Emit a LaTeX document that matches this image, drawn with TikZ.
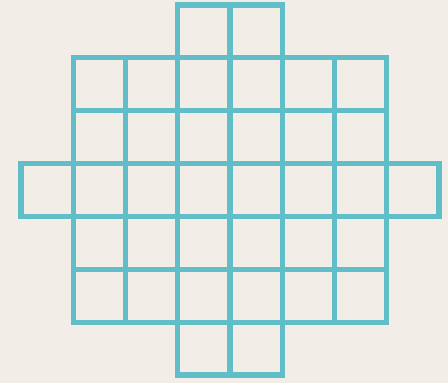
\documentclass[tikz,border=0pt]{standalone}
\usepackage{tikz}
\definecolor{gridteal}{RGB}{96,190,200}
\definecolor{paper}{RGB}{242,237,231}

\begin{document}
\begin{tikzpicture}[
    x=1pt, y=-1pt,
    cellbox/.style={draw=gridteal, line width=5.2pt, line join=miter}
]

% paper
\fill[paper] (0,0) rectangle (448,383);

% rows of cells: row / first column / last column
\foreach \r/\a/\b in {0/3/4, 1/1/6, 2/1/6, 3/0/7, 4/1/6, 5/1/6, 6/3/4}
  \foreach \c in {\a,...,\b}
    \draw[cellbox] ({21+52.25*\c},{5+52.86*\r}) rectangle +(52.25,52.86);

\end{tikzpicture}
\end{document}
